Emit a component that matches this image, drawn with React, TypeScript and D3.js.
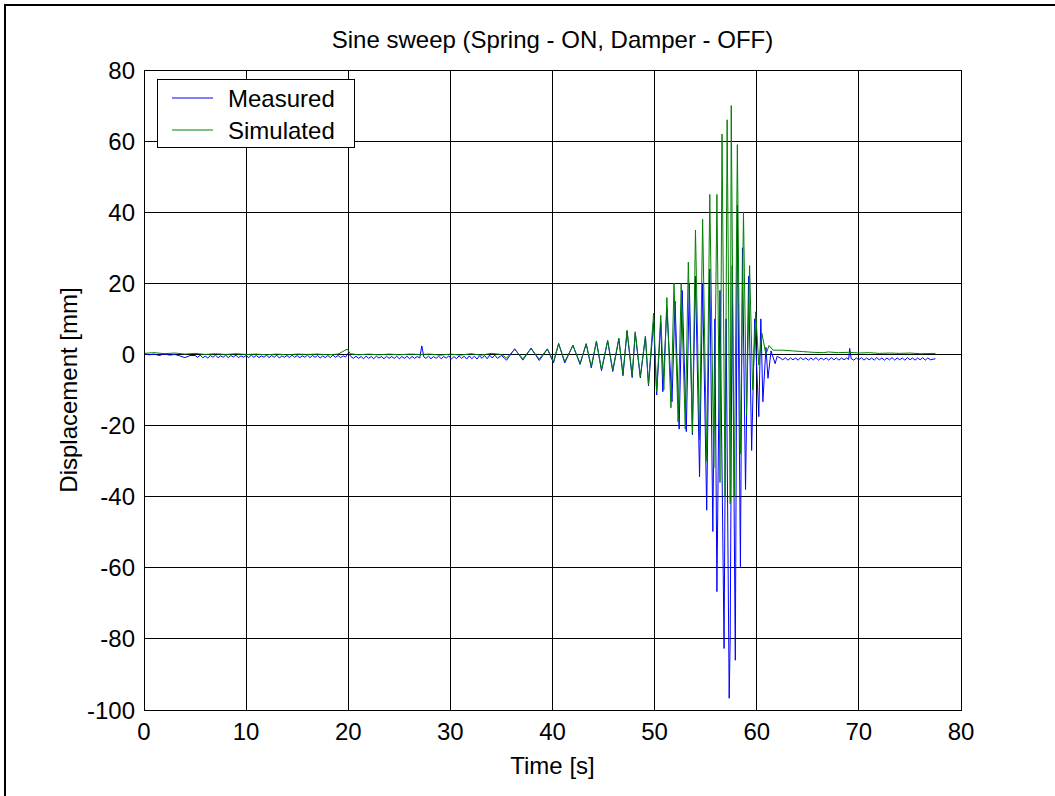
import React from 'react';
import * as d3 from 'd3';

const xTicks = [0, 10, 20, 30, 40, 50, 60, 70, 80];
const yTicks = [-100, -80, -60, -40, -20, 0, 20, 40, 60, 80];
const titleText = 'Sine sweep (Spring - ON, Damper - OFF)';
const xLabel = 'Time [s]';
const yLabel = 'Displacement [mm]';
const seriesNames = ['Measured', 'Simulated'];

// [time s, displacement mm]
const measured: [number, number][] = [
  [0, 0.2], [0.5, -0.1], [1, 0.1], [1.5, -0.3], [2, 0.2], [2.5, -0.2], [3, 0.0], [3.5, -0.4], [4, -0.9], [4.5, -0.3],
  [5, -0.3], [5.25, -0.8], [5.5, -0.2], [5.75, -0.9], [6, -0.5], [6.25, -1.0], [6.5, -0.3], [6.75, -0.8], [7, -0.2], [7.25, -0.9],
  [7.5, -0.4], [7.75, -0.8], [8, -0.2], [8.25, -0.9], [8.5, -0.3], [8.75, -0.7], [9, -0.2], [9.25, -0.9], [9.5, -0.4], [9.75, -0.8],
  [10, -0.3], [10.25, -0.9], [10.5, -0.2], [10.75, -0.8], [11, -0.3], [11.25, -0.9], [11.5, -0.4], [11.75, -0.8], [12, -0.2], [12.25, -0.9],
  [12.5, -0.3], [12.75, -0.8], [13, -0.2], [13.25, -1.0], [13.5, -0.4], [13.75, -0.8], [14, -0.3], [14.25, -0.9], [14.5, -0.2], [14.75, -0.8],
  [15, -0.3], [15.25, -0.9], [15.5, -0.4], [15.75, -0.8], [16, -0.2], [16.25, -0.9], [16.5, -0.3], [16.75, -0.8], [17, -0.3], [17.25, -1.0],
  [17.5, -0.4], [17.75, -0.9], [18, -0.3], [18.25, -0.9], [18.5, -0.2], [18.75, -0.8], [19, -0.3], [19.25, -0.9], [19.5, -0.4], [19.75, -0.7],
  [20, 0.4],
  [20.25, -0.6], [20.5, -1.1], [20.75, -0.5], [21, -1.1], [21.25, -0.6], [21.5, -1.2], [21.75, -0.5], [22, -1.1], [22.25, -0.6], [22.5, -1.2],
  [22.75, -0.5], [23, -1.0], [23.25, -0.6], [23.5, -1.2], [23.75, -0.5], [24, -1.1], [24.25, -0.6], [24.5, -1.1], [24.75, -0.5], [25, -1.2],
  [25.25, -0.6], [25.5, -1.1], [25.75, -0.5], [26, -1.2], [26.25, -0.6], [26.5, -1.1], [26.75, -0.6], [27, -1.0], [27.2, 2.4], [27.4, -0.7],
  [27.6, -1.1], [27.85, -0.5], [28.1, -1.2], [28.35, -0.6], [28.6, -1.1], [28.85, -0.5], [29.1, -1.2], [29.35, -0.6], [29.6, -1.0], [29.85, -0.4],
  [30.1, -1.3], [30.35, -0.6], [30.6, -1.2], [30.85, -0.4], [31.1, -1.1], [31.35, -0.5], [31.6, -1.3], [31.85, -0.4], [32.1, -1.2], [32.35, -0.5],
  [32.6, -1.3], [32.85, -0.4], [33.1, -1.1], [33.35, -0.3], [33.6, -1.2], [33.85, -0.2], [34.1, -1.0], [34.35, -0.2], [34.6, -1.1], [35, -0.3],
  [35.5, -1.6], [36.3, 1.6], [37.1, -1.6], [37.9, 1.8], [38.7, -1.7], [39.5, 1.5], [40.1, -2.4], [40.6, 3.1], [41.2, -2.4], [42.0, 2.6],
  [42.7, -2.8], [43.3, 3.0], [43.8, -3.8], [44.3, 3.6], [44.8, -4.6], [45.4, 3.8], [45.9, -4.8], [46.5, 4.3], [46.9, -6.0], [47.3, 6.5],
  [47.8, -6.5], [48.1, 6.0], [48.6, -6.6], [49.1, 5.0], [49.4, -8.8], [49.9, 9.0], [50.2, -11.4],
  [50.6, 9], [50.8, -10.5], [51.2, 13], [51.7, -13.3], [52.0, 15], [52.4, -21], [52.7, 18], [53.1, -21.7], [53.4, 20], [53.7, -22.6],
  [54.0, 22], [54.4, -34.4], [54.7, 20], [55.1, -43.8], [55.4, 24], [55.7, -49.8], [55.9, 10], [56.1, -66.7], [56.4, 18], [56.8, -82.7],
  [57.0, 10], [57.3, -96.7], [57.4, -80], [57.6, 25], [57.9, -86], [58.1, 42], [58.4, -59.7], [58.6, 30], [58.9, -38], [59.2, 22],
  [59.5, -27], [59.8, 10], [60.2, -17.5], [60.4, 10], [60.6, -13.3], [60.9, 2], [61.1, -6.7], [61.4, 1], [61.8, -2.6], [62.0, -0.5],
  [62.3, -1.0], [62.55, -1.5], [62.8, -0.9], [63.05, -1.6], [63.3, -1.0], [63.55, -1.5], [63.8, -1.0], [64.05, -1.6], [64.3, -0.9], [64.55, -1.5],
  [64.8, -1.0], [65.05, -1.6], [65.3, -1.0], [65.55, -1.5], [65.8, -0.9], [66.05, -1.6], [66.3, -1.0], [66.55, -1.5], [66.8, -1.0], [67.05, -1.6],
  [67.3, -0.9], [67.55, -1.5], [67.8, -1.0], [68.05, -1.6], [68.3, -1.0], [68.55, -1.5], [68.8, -1.0], [69.0, -1.4], [69.1, 1.7], [69.25, -1.2],
  [69.5, -1.6], [69.75, -1.0], [70, -1.5], [70.25, -0.9], [70.5, -1.6], [70.75, -1.0], [71, -1.5], [71.25, -1.0], [71.5, -1.6], [71.75, -0.9],
  [72, -1.5], [72.25, -1.0], [72.5, -1.6], [72.75, -1.0], [73, -1.5], [73.25, -0.9], [73.5, -1.6], [73.75, -1.0], [74, -1.5], [74.25, -1.0],
  [74.5, -1.6], [74.75, -0.9], [75, -1.5], [75.25, -1.0], [75.5, -1.6], [75.75, -1.0], [76, -1.5], [76.25, -0.9], [76.5, -1.6], [76.75, -1.0],
  [77, -1.5], [77.5, -1.2],
];

const simulated: [number, number][] = [
  [0, 0.3], [1, 0.5], [2, 0.2], [3, 0.4], [4, 0.1], [5, 0.3], [6, 0.0], [7, 0.2], [8, 0.0], [9, 0.2],
  [10, 0.0], [11, 0.1], [12, -0.1], [13, 0.1], [14, -0.1], [15, 0.1], [16, 0.0], [17, 0.1], [18, -0.1], [19, 0.1],
  [19.9, 1.5], [20.2, 0.2], [21, -0.1], [22, 0.1], [23, -0.1], [24, 0.1], [25, -0.1], [26, 0.1], [27, 0.0], [28, 0.1],
  [29, -0.2], [30, 0.1], [31, -0.2], [32, 0.2], [33, -0.2], [34, 0.3], [35, 0.0],
  [35.5, -1.0], [36.3, 1.4], [37.1, -1.2], [37.9, 1.6], [38.7, -1.3], [39.5, 1.6], [40.1, -2.0], [40.6, 3.0], [41.2, -2.0], [42.0, 2.5],
  [42.7, -2.5], [43.3, 3.0], [43.8, -3.4], [44.3, 3.8], [44.8, -4.2], [45.4, 4.0], [45.9, -4.4], [46.5, 4.6], [46.9, -5.6], [47.3, 6.8],
  [47.8, -6.0], [48.1, 6.4], [48.6, -6.2], [49.1, 5.2], [49.4, -8.4], [49.9, 11.6], [50.2, -10.5],
  [50.6, 11], [50.9, -10], [51.2, 16], [51.6, -15], [51.9, 20], [52.3, -19], [52.6, 20], [53.0, -21], [53.3, 26], [53.7, -22],
  [54.0, 35], [54.4, -24], [54.7, 38], [55.1, -30], [55.4, 45], [55.8, -32], [56.1, 45], [56.4, -36], [56.6, 62], [56.9, -40],
  [57.1, 66], [57.4, -42], [57.5, 70], [57.8, -40], [58.1, 59], [58.4, -28], [58.7, 40], [59.0, -17], [59.3, 25], [59.6, -10],
  [59.9, 12], [60.2, -3], [60.5, 6], [60.9, 0], [61.2, 2.5], [61.6, 1.2], [62.5, 1.2], [63.5, 1.0], [64.5, 0.8], [65.5, 0.6],
  [66.5, 0.5], [67, 0.7], [68, 0.5], [69, 0.6], [70, 0.4], [71, 0.5], [72, 0.3], [73, 0.4], [74, 0.3], [75, 0.4],
  [76, 0.2], [77.5, 0.3],
];

const FONT = '"Liberation Sans", Arial, Helvetica, sans-serif';

export default function App() {
  const W = 1055;
  const H = 796;
  const x = d3.scaleLinear().domain([0, 80]).range([144, 961]);
  const y = d3.scaleLinear().domain([-100, 80]).range([710, 70]);
  const line = d3
    .line<[number, number]>()
    .x((d) => x(d[0]))
    .y((d) => y(d[1]));
  const [x0, x1] = x.range();
  const [y0, y1] = y.range();
  const fs = 24;
  return (
    <svg width={W} height={H} style={{ position: 'absolute', left: 0, top: 0, background: '#fff' }} fontFamily={FONT}>
      <rect x={0} y={0} width={W} height={H} fill="#fff" />
      <rect x={5} y={5} width={W + 20} height={H + 20} fill="none" stroke="#000" strokeWidth={2} />
      <rect x={x0} y={y1} width={x1 - x0} height={y0 - y1} fill="#fff" />
      {xTicks.map((t) => (
        <line key={'gx' + t} x1={x(t)} x2={x(t)} y1={y1} y2={y0} stroke="#000" strokeWidth={1} shapeRendering="crispEdges" />
      ))}
      {yTicks.map((t) => (
        <line key={'gy' + t} x1={x0} x2={x1} y1={y(t)} y2={y(t)} stroke="#000" strokeWidth={1} shapeRendering="crispEdges" />
      ))}
      <path d={line(measured) || ''} fill="none" stroke="#0000ff" strokeWidth={1} />
      <path d={line(simulated) || ''} fill="none" stroke="#008000" strokeWidth={1} />
      <rect x={x0} y={y1} width={x1 - x0} height={y0 - y1} fill="none" stroke="#000" strokeWidth={1} shapeRendering="crispEdges" />
      {xTicks.map((t) => (
        <text key={'tx' + t} x={x(t)} y={y0 + 30} fontSize={fs} textAnchor="middle" fill="#000">
          {t}
        </text>
      ))}
      {yTicks.map((t) => (
        <text key={'ty' + t} x={x0 - 9} y={y(t) + 8.5} fontSize={fs} textAnchor="end" fill="#000">
          {t}
        </text>
      ))}
      <text x={(x0 + x1) / 2} y={48} fontSize={fs} textAnchor="middle" fill="#000">
        {titleText}
      </text>
      <text x={(x0 + x1) / 2} y={774} fontSize={fs} textAnchor="middle" fill="#000">
        {xLabel}
      </text>
      <text transform={`translate(77,${(y0 + y1) / 2}) rotate(-90)`} fontSize={fs} textAnchor="middle" fill="#000">
        {yLabel}
      </text>
      <rect x={157} y={79} width={197} height={68} fill="#fff" stroke="#000" strokeWidth={1} shapeRendering="crispEdges" />
      <line x1={172} x2={213} y1={98} y2={98} stroke="#0000ff" strokeWidth={1} />
      <line x1={172} x2={213} y1={130} y2={130} stroke="#008000" strokeWidth={1} />
      <text x={228} y={106.5} fontSize={fs} fill="#000">
        {seriesNames[0]}
      </text>
      <text x={228} y={138.5} fontSize={fs} fill="#000">
        {seriesNames[1]}
      </text>
    </svg>
  );
}
